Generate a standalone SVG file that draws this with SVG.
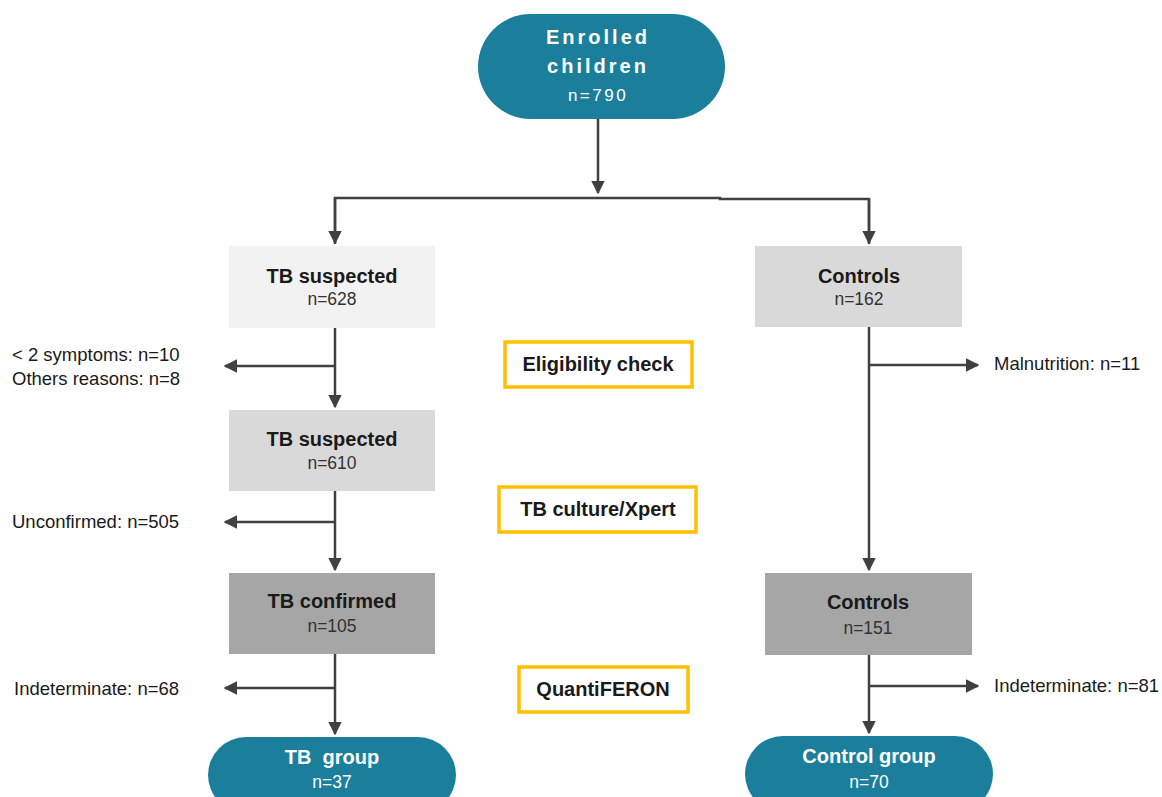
<svg xmlns="http://www.w3.org/2000/svg" width="1162" height="797" viewBox="0 0 1162 797">
<style>
.t{font-family:"Liberation Sans",Arial,sans-serif;}
.b{font-weight:bold;font-size:20px;fill:#1a1a1a;text-anchor:middle;}
.n{font-size:17.5px;fill:#333;text-anchor:middle;}
.w{fill:#fff;text-anchor:middle;}
.side{font-size:18.5px;fill:#1a1a1a;}
.pill{fill:#1b7f9c;}
.chk{fill:#fff;stroke:#ffc000;stroke-width:3.5;}
.ln{stroke:#404040;stroke-width:2.5;fill:none;}
</style>
<defs>
<marker id="ah" viewBox="0 0 10 10" refX="9" refY="5" markerWidth="5.5" markerHeight="5.5" orient="auto" markerUnits="strokeWidth">
<path d="M0,0 L10,5 L0,10 z" fill="#404040"/>
</marker>
</defs>
<rect width="1162" height="797" fill="#fff"/>
<g id="connectors">
<path class="ln" d="M598,119 V193" marker-end="url(#ah)"/>
<path class="ln" d="M335,244 V198 H720 V199 H869 V244"/>
<path class="ln" d="M335,198 V243" marker-end="url(#ah)"/>
<path class="ln" d="M869,199 V243" marker-end="url(#ah)"/>
<path class="ln" d="M335,328 V407" marker-end="url(#ah)"/>
<path class="ln" d="M335,366 H225" marker-end="url(#ah)"/>
<path class="ln" d="M335,491 V570" marker-end="url(#ah)"/>
<path class="ln" d="M335,522 H225" marker-end="url(#ah)"/>
<path class="ln" d="M335,654 V734" marker-end="url(#ah)"/>
<path class="ln" d="M335,688 H225" marker-end="url(#ah)"/>
<path class="ln" d="M869,327 V570" marker-end="url(#ah)"/>
<path class="ln" d="M869,365 H978" marker-end="url(#ah)"/>
<path class="ln" d="M869,655 V733" marker-end="url(#ah)"/>
<path class="ln" d="M869,686 H978" marker-end="url(#ah)"/>
</g>
<g id="enrolled">
<rect class="pill" x="478" y="14" width="247" height="105" rx="52.5"/>
<text class="t w" x="598" y="44" font-size="20" font-weight="bold" letter-spacing="3">Enrolled</text>
<text class="t w" x="598" y="73" font-size="20" font-weight="bold" letter-spacing="3">children</text>
<text class="t w" x="598" y="101" font-size="17" letter-spacing="2.5">n=790</text>
</g>
<g id="tb-suspected-1">
<rect x="229" y="246" width="206" height="82" fill="#f2f2f2"/>
<text class="t b" x="332" y="283">TB suspected</text>
<text class="t n" x="332" y="305">n=628</text>
</g>
<g id="controls-1">
<rect x="755" y="246" width="207" height="81" fill="#d9d9d9"/>
<text class="t b" x="859" y="283">Controls</text>
<text class="t n" x="859" y="305">n=162</text>
</g>
<g id="excluded-1">
<text class="t side" x="12" y="361">&lt; 2 symptoms: n=10</text>
<text class="t side" x="12" y="385">Others reasons: n=8</text>
</g>
<g id="eligibility">
<rect class="chk" x="505" y="342" width="187" height="45"/>
<text class="t b" x="598" y="371">Eligibility check</text>
</g>
<g id="malnutrition">
<text class="t side" x="994" y="370">Malnutrition: n=11</text>
</g>
<g id="tb-suspected-2">
<rect x="229" y="410" width="206" height="81" fill="#d9d9d9"/>
<text class="t b" x="332" y="446">TB suspected</text>
<text class="t n" x="332" y="469">n=610</text>
</g>
<g id="unconfirmed">
<text class="t side" x="12" y="528">Unconfirmed: n=505</text>
</g>
<g id="culture">
<rect class="chk" x="499" y="487" width="197" height="45"/>
<text class="t b" x="598" y="516">TB culture/Xpert</text>
</g>
<g id="tb-confirmed">
<rect x="229" y="573" width="206" height="81" fill="#a6a6a6"/>
<text class="t b" x="332" y="608">TB confirmed</text>
<text class="t n" x="332" y="632">n=105</text>
</g>
<g id="controls-2">
<rect x="765" y="573" width="207" height="82" fill="#a6a6a6"/>
<text class="t b" x="868" y="609">Controls</text>
<text class="t n" x="868" y="634">n=151</text>
</g>
<g id="quantiferon">
<rect class="chk" x="519" y="667" width="169" height="45"/>
<text class="t b" x="603" y="696">QuantiFERON</text>
</g>
<g id="indeterminate-tb">
<text class="t side" x="14" y="695">Indeterminate: n=68</text>
</g>
<g id="indeterminate-ctrl">
<text class="t side" x="994" y="692">Indeterminate: n=81</text>
</g>
<g id="tb-group">
<rect class="pill" x="208" y="737" width="248" height="76" rx="38"/>
<text class="t w" x="332" y="764" font-size="20" font-weight="bold" style="white-space:pre">TB  group</text>
<text class="t w" x="332" y="788" font-size="17.5">n=37</text>
</g>
<g id="control-group">
<rect class="pill" x="745" y="736" width="248" height="76" rx="38"/>
<text class="t w" x="869" y="763" font-size="20" font-weight="bold">Control group</text>
<text class="t w" x="869" y="788" font-size="17.5">n=70</text>
</g>
</svg>
